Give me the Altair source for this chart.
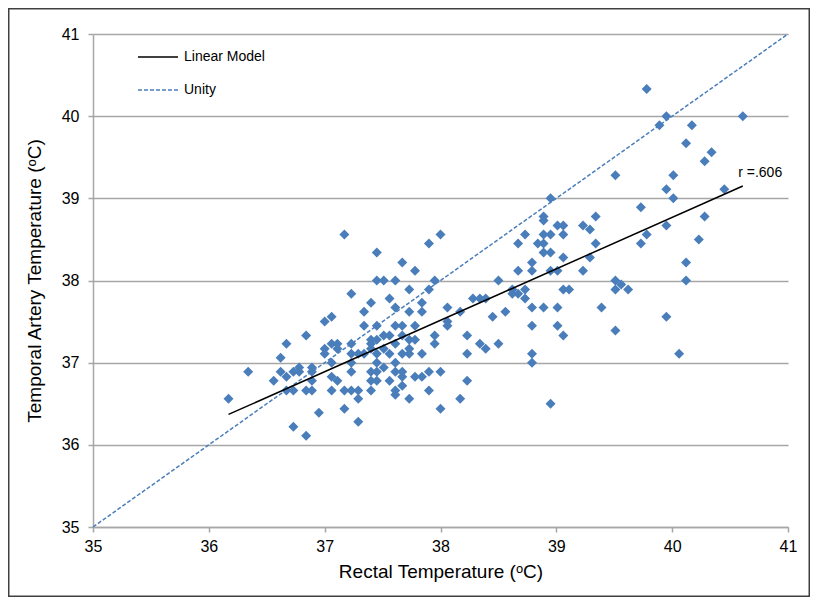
import altair as alt
import pandas as pd

# ---- data ----
rectal = [
    36.17, 36.34, 36.56, 36.62, 36.62, 36.67, 36.67, 36.67, 36.73, 36.73,
    36.73, 36.78, 36.78, 36.84, 36.84, 36.84, 36.89, 36.89, 36.89, 36.89,
    36.95, 37.00, 37.00, 37.00, 37.06, 37.06, 37.06, 37.06, 37.06, 37.11,
    37.11, 37.11, 37.17, 37.17, 37.17, 37.23, 37.23, 37.23, 37.23, 37.23,
    37.23, 37.29, 37.29, 37.29, 37.29, 37.34, 37.34, 37.34, 37.40, 37.40,
    37.40, 37.40, 37.40, 37.40, 37.40, 37.45, 37.45, 37.45, 37.45, 37.45,
    37.45, 37.45, 37.45, 37.51, 37.51, 37.51, 37.51, 37.56, 37.56, 37.56,
    37.56, 37.61, 37.61, 37.61, 37.61, 37.61, 37.61, 37.61, 37.61, 37.67,
    37.67, 37.67, 37.67, 37.67, 37.67, 37.67, 37.73, 37.73, 37.73, 37.73,
    37.73, 37.73, 37.78, 37.78, 37.78, 37.78, 37.84, 37.84, 37.84, 37.84,
    37.90, 37.90, 37.90, 37.90, 37.95, 37.95, 37.95, 38.00, 38.00, 38.00,
    38.06, 38.06, 38.06, 38.17, 38.17, 38.23, 38.23, 38.23, 38.28, 38.34,
    38.34, 38.39, 38.39, 38.45, 38.50, 38.50, 38.56, 38.62, 38.62, 38.67,
    38.67, 38.67, 38.73, 38.73, 38.73, 38.79, 38.79, 38.79, 38.79, 38.79,
    38.79, 38.84, 38.89, 38.89, 38.89, 38.89, 38.89, 38.89, 38.95, 38.95,
    38.95, 38.95, 38.95, 39.01, 39.01, 39.01, 39.01, 39.06, 39.06, 39.06,
    39.06, 39.06, 39.11, 39.23, 39.23, 39.29, 39.29, 39.34, 39.34, 39.39,
    39.51, 39.51, 39.51, 39.51, 39.56, 39.62, 39.73, 39.73, 39.78, 39.78,
    39.89, 39.95, 39.95, 39.95, 39.95, 40.01, 40.01, 40.06, 40.12, 40.12,
    40.12, 40.17, 40.23, 40.28, 40.28, 40.34, 40.45, 40.61,
]
temporal = [
    36.56, 36.89, 36.78, 37.06, 36.89, 37.23, 36.83, 36.66, 36.89, 36.66,
    36.22, 36.94, 36.89, 37.33, 36.66, 36.11, 36.94, 36.89, 36.78, 36.66,
    36.39, 37.50, 37.17, 37.11, 37.56, 37.23, 37.00, 36.83, 36.66, 37.23,
    37.17, 36.78, 38.56, 36.66, 36.44, 37.84, 37.23, 37.11, 37.00, 36.89,
    36.66, 37.11, 36.66, 36.56, 36.28, 37.62, 37.45, 37.11, 37.73, 37.28,
    37.23, 37.17, 36.89, 36.78, 36.66, 38.34, 38.00, 37.45, 37.28, 37.11,
    37.00, 36.89, 36.78, 38.00, 37.33, 37.17, 36.94, 37.78, 37.33, 37.11,
    36.78, 38.00, 37.67, 37.45, 37.23, 37.00, 36.89, 36.66, 36.61, 38.22,
    37.45, 37.33, 37.11, 36.89, 36.83, 36.72, 37.89, 37.62, 37.28, 37.17,
    37.11, 36.56, 38.12, 37.45, 37.28, 36.83, 37.73, 37.62, 37.11, 36.83,
    38.45, 37.89, 36.89, 36.66, 38.00, 37.33, 37.23, 38.56, 36.89, 36.44,
    37.67, 37.50, 37.45, 37.62, 36.56, 37.33, 37.11, 36.78, 37.78, 37.78,
    37.23, 37.78, 37.17, 37.56, 38.00, 37.23, 37.62, 37.89, 37.84, 38.45,
    38.12, 37.84, 38.56, 37.89, 37.78, 38.22, 38.12, 37.67, 37.45, 37.11,
    37.00, 38.45, 38.78, 38.73, 38.56, 38.45, 38.34, 37.67, 39.00, 38.56,
    38.34, 38.12, 36.50, 38.67, 38.12, 37.67, 37.45, 38.67, 38.56, 38.28,
    37.89, 37.33, 37.89, 38.67, 38.12, 38.62, 38.28, 38.78, 38.45, 37.67,
    39.28, 38.00, 37.89, 37.39, 37.95, 37.89, 38.89, 38.45, 40.33, 38.56,
    39.89, 40.00, 39.11, 38.67, 37.56, 39.28, 39.00, 37.11, 39.67, 38.22,
    38.00, 39.89, 38.50, 39.45, 38.78, 39.56, 39.11, 40.00,
]
fit_x = [36.17, 40.61]
fit_y = [36.37, 39.15]
unity_vals = [35, 41]
r_label = "r =.606"
r_pos = [40.57, 39.31]
axis_ticks = [35, 36, 37, 38, 39, 40, 41]
legend_labels = ["Linear Model", "Unity"]

x_title = "Rectal Temperature (\u1d52C)"
y_title = "Temporal Artery Temperature (\u1d52C)"

W, H = 695, 493
FONT = "Liberation Sans"
BLUE = "#4a7ebb"
GRAY = "#a6a6a6"

pts = pd.DataFrame({"rectal": rectal, "temporal": temporal})
fit_df = pd.DataFrame({"rectal": fit_x, "temporal": fit_y})
unity_df = pd.DataFrame({"rectal": unity_vals, "temporal": unity_vals})
r_df = pd.DataFrame({"rectal": [r_pos[0]], "temporal": [r_pos[1]], "t": [r_label]})

xs = alt.Scale(domain=[35, 41], nice=False, zero=False)
ys = alt.Scale(domain=[35, 41], nice=False, zero=False)

x_enc = alt.X("rectal:Q", scale=xs, axis=alt.Axis(
    title=x_title, values=axis_ticks, grid=False, labelFlush=False,
    labelOverlap=False, tickSize=5, labelPadding=6, titlePadding=8,
    format="d"))
y_enc = alt.Y("temporal:Q", scale=ys, axis=alt.Axis(
    title=y_title, values=axis_ticks, grid=True, labelFlush=False,
    labelOverlap=False, tickSize=5, labelPadding=9, titlePadding=17,
    format="d"))

scatter = alt.Chart(pts).mark_point(
    shape="diamond", filled=True, size=100, color=BLUE, opacity=1
).encode(x=x_enc, y=y_enc)

unity = alt.Chart(unity_df).mark_line(
    color=BLUE, strokeWidth=1.5, strokeDash=[4, 2]
).encode(x="rectal:Q", y="temporal:Q")

fit = alt.Chart(fit_df).mark_line(
    color="black", strokeWidth=1.5
).encode(x="rectal:Q", y="temporal:Q")

rtext = alt.Chart(r_df).mark_text(
    align="left", baseline="middle", fontSize=14, font=FONT, color="black"
).encode(x="rectal:Q", y="temporal:Q", text="t:N")

one = pd.DataFrame({"a": [0]})
leg_line1 = alt.Chart(one).mark_rule(color="black", strokeWidth=1.5).encode(
    x=alt.value(45), x2=alt.value(85), y=alt.value(23))
leg_line2 = alt.Chart(one).mark_rule(color=BLUE, strokeWidth=1.5, strokeDash=[4, 2]).encode(
    x=alt.value(45), x2=alt.value(85), y=alt.value(56))
leg_text1 = alt.Chart(one).mark_text(
    align="left", baseline="middle", fontSize=14, font=FONT, color="black"
).encode(x=alt.value(91), y=alt.value(23), text=alt.value(legend_labels[0]))
leg_text2 = alt.Chart(one).mark_text(
    align="left", baseline="middle", fontSize=14, font=FONT, color="black"
).encode(x=alt.value(91), y=alt.value(56), text=alt.value(legend_labels[1]))

frame = alt.Chart(one).mark_rect(
    fillOpacity=0, stroke="#404040", strokeWidth=1.5
).encode(x=alt.value(-84.25), x2=alt.value(W + 21.25),
         y=alt.value(-25.25), y2=alt.value(H + 69.25))

chart = alt.layer(
    scatter, unity, fit, rtext, leg_line1, leg_line2, leg_text1, leg_text2, frame
).properties(
    width=W, height=H,
    autosize=alt.AutoSizeParams(type="none"),
    padding={"left": 85, "top": 26, "right": 22, "bottom": 70},
    background="white",
).configure_view(stroke=None).configure_axis(
    domainColor=GRAY, domainWidth=1.5, tickColor=GRAY, tickWidth=1.5,
    gridColor=GRAY, gridWidth=1.5, labelColor="black", titleColor="black",
    labelFont=FONT, titleFont=FONT, labelFontSize=16, titleFontSize=19,
    titleFontWeight="normal",
)

chart.save("out.html", embed_options={"renderer": "svg", "actions": False})
